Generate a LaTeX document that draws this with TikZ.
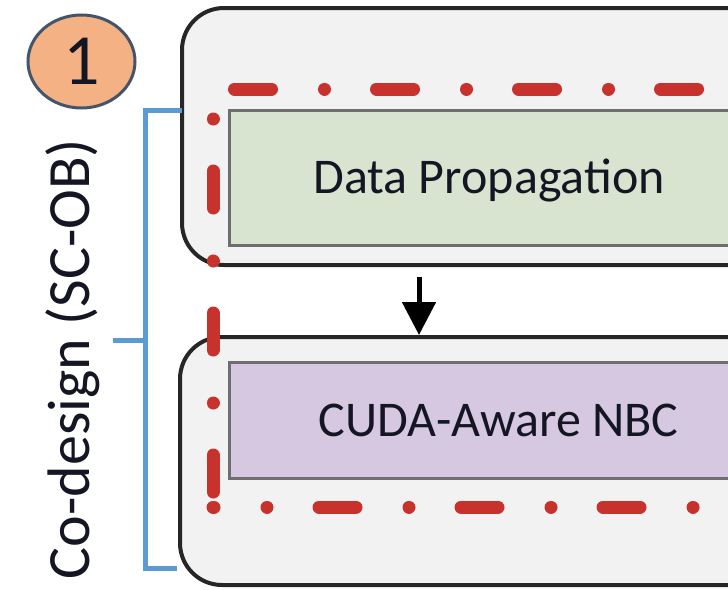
\documentclass[tikz,border=0pt]{standalone}
\usepackage{fontspec}
\setmainfont{Carlito}
\usetikzlibrary{arrows.meta,shapes.geometric}
\definecolor{outerfill}{RGB}{242,242,242}
\definecolor{outerline}{RGB}{38,38,38}
\definecolor{greenfill}{RGB}{217,228,208}
\definecolor{purplefill}{RGB}{214,200,225}
\definecolor{innerline}{RGB}{110,110,110}
\definecolor{reddash}{RGB}{200,50,45}
\definecolor{bracketblue}{RGB}{91,155,213}
\definecolor{badgefill}{RGB}{244,177,131}
\definecolor{badgeline}{RGB}{68,84,106}
\definecolor{textdark}{RGB}{20,22,35}
\begin{document}
\begin{tikzpicture}[x=1pt,y=-1pt,
  outerbox/.style={draw=outerline, fill=outerfill, line width=4pt, rounded corners=42pt, inner sep=0pt},
  innerbox/.style={draw=innerline, line width=3pt, inner sep=0pt, text height=32pt, text depth=0pt, text=textdark, font=\fontsize{50}{60}\selectfont},
  reddashline/.style={draw=reddash, line width=13pt, line cap=round, dash pattern=on 37pt off 53pt on 0.01pt off 52pt},
  bracketline/.style={draw=bracketblue, line width=5pt, line join=miter},
  badge/.style={ellipse, draw=badgeline, fill=badgefill, line width=3pt, minimum width=107pt, minimum height=93pt, inner sep=0pt, text=textdark, font=\fontsize{72}{80}\selectfont},
  sidelabel/.style={rotate=90, anchor=base, text=textdark, font=\fontsize{60}{68}\selectfont},
  flowarrow/.style={draw=black, line width=5pt, -{Triangle[width=33pt,length=33pt]}}
]
\clip (0,0) rectangle (728,589);
% outer rounded boxes
\node[outerbox, minimum width=668pt, minimum height=257pt] (upper) at (516,136.5) {};
\node[outerbox, minimum width=670pt, minimum height=248pt] (lower) at (515,461) {};
% inner boxes
\node[innerbox, fill=greenfill, minimum width=520pt, minimum height=135pt] (prop) at (489,177.5) {Data Propagation};
\node[innerbox, fill=purplefill, minimum width=539pt, minimum height=116pt] (nbc) at (498.5,420) {CUDA-Aware NBC};
% arrow
\coordinate (arrowstart) at (419,277);
\draw[flowarrow] (arrowstart) -- (arrowstart |- lower.north);
% red dash-dot frame
\coordinate (rtl) at (213,89);
\coordinate (rbl) at (213,507);
\coordinate (rtr) at (780,89);
\coordinate (rbr) at (780,507);
\draw[reddashline, dash phase=60pt] (rtl) -- (rbl);
\draw[reddashline, dash phase=36pt] (rbl) -- (rbr);
\draw[reddashline, dash phase=120.5pt] (rtl) -- (rtr);
% bracket
\coordinate (bt) at (182,110);
\coordinate (bb) at (177,568);
\coordinate (bm) at (145,340);
\coordinate (btick) at (113,340);
\draw[bracketline] (bt) -- (145,110) -- (145,568) -- (bb);
\draw[bracketline] (bm) -- (btick);
% badge
\node[badge] (badge) at (81.5,61.5) {1};
% side label
\node[sidelabel] (side) at (89,359) {Co-design (SC-OB)};
\end{tikzpicture}
\end{document}
